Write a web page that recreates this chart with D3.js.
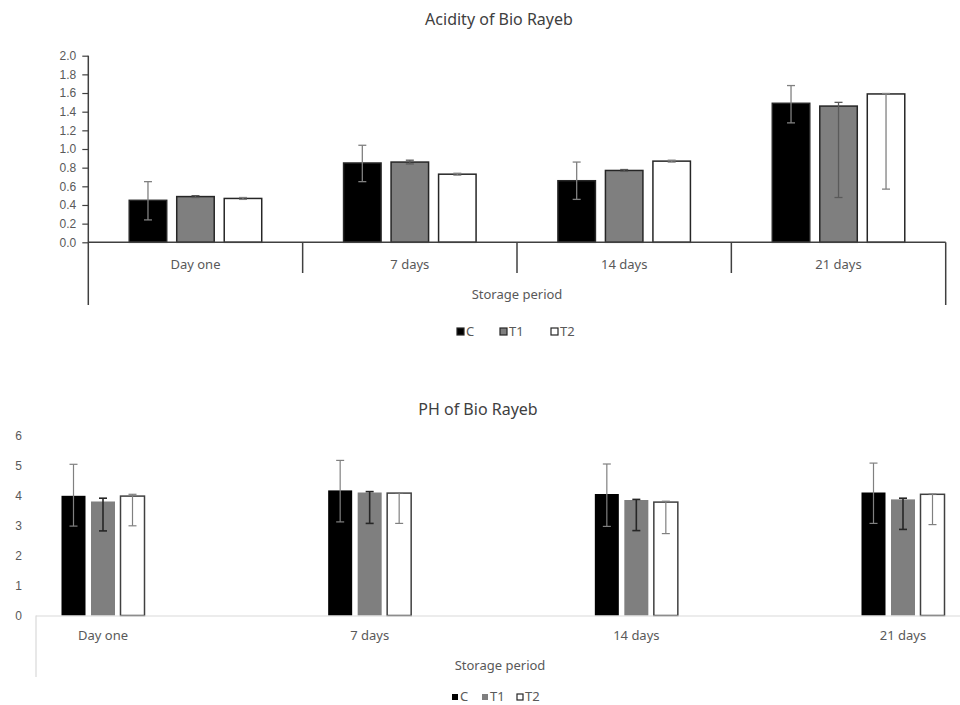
<!DOCTYPE html>
<html>
<head>
<meta charset="utf-8">
<script src="https://cdn.jsdelivr.net/npm/d3@7"></script>
<style>
  body { margin: 0; background: #fff; }
  svg { display: block; font-family: "Noto Sans", sans-serif; }
  .tick text { fill: #595959; font-size: 12px; }
</style>
</head>
<body>
<svg id="chart"></svg>
<script>
// categories and series
const categories = ['Day one', '7 days', '14 days', '21 days'];
const series = ['C', 'T1', 'T2'];

// acidity means and error bars (plus / minus)
const acidC = [0.45, 0.85, 0.66, 1.49];
const acidT1 = [0.49, 0.86, 0.77, 1.46];
const acidT2 = [0.47, 0.73, 0.87, 1.59];
const acidPlusC = [0.20, 0.19, 0.20, 0.19];
const acidPlusT1 = [0.01, 0.02, 0.01, 0.04];
const acidPlusT2 = [0.01, 0.01, 0.01, 0.005];
const acidMinusC = [0.21, 0.20, 0.20, 0.21];
const acidMinusT1 = [0.01, 0.02, 0.01, 0.98];
const acidMinusT2 = [0.01, 0.01, 0.01, 1.02];
const acidTicks = [0, 0.2, 0.4, 0.6, 0.8, 1.0, 1.2, 1.4, 1.6, 1.8, 2.0];

// pH means and error bars
const phC = [3.99, 4.17, 4.05, 4.10];
const phT1 = [3.80, 4.10, 3.85, 3.87];
const phT2 = [3.98, 4.08, 3.78, 4.04];
const phPlusC = [1.05, 1.00, 1.00, 0.98];
const phPlusT1 = [0.11, 0.03, 0.02, 0.04];
const phPlusT2 = [0.06, 0.01, 0.03, 0.01];
const phMinusC = [1.01, 1.05, 1.08, 1.03];
const phMinusT1 = [0.98, 1.03, 1.02, 1.00];
const phMinusT2 = [0.99, 1.01, 1.05, 1.01];
const phTicks = [0, 1, 2, 3, 4, 5, 6];

const width = 960;
const height = 705;

const svg = d3.select('#chart')
  .attr('width', width)
  .attr('height', height);

// flatten a set of arrays into bar records
function rows(vals, plus, minus) {
  const out = [];
  categories.forEach((cat, i) => {
    series.forEach((s, j) => {
      out.push({ cat, s, v: vals[j][i], p: plus[j][i], m: minus[j][i] });
    });
  });
  return out;
}

const fills = { C: '#000000', T1: '#7f7f7f', T2: '#ffffff' };

// ---------- Acidity chart ----------
{
  const g = svg.append('g');
  const data = rows([acidC, acidT1, acidT2], [acidPlusC, acidPlusT1, acidPlusT2], [acidMinusC, acidMinusT1, acidMinusT2]);

  const x0 = d3.scaleBand().domain(categories).range([88.3, 945.7]);
  const groupW = 132.5;
  const off = (x0.bandwidth() - groupW) / 2;
  const x1 = d3.scaleBand().domain(series).range([off, off + groupW]).paddingInner(10 / 47.5);
  const y = d3.scaleLinear().domain([0, 2]).range([242.3, 55.7]);

  g.append('text')
    .attr('x', 499).attr('y', 25)
    .attr('text-anchor', 'middle')
    .attr('font-size', 16)
    .attr('fill', '#404040')
    .text('Acidity of Bio Rayeb');

  const yAxis = g.append('g')
    .attr('transform', 'translate(88.3,0)')
    .call(d3.axisLeft(y).tickValues(acidTicks).tickFormat(d3.format('.1f')).tickSize(6).tickPadding(6));
  yAxis.select('.domain').remove();
  yAxis.selectAll('.tick line').attr('stroke', '#404040').attr('stroke-width', 1.2);

  g.selectAll('.bar')
    .data(data)
    .enter()
    .append('rect')
    .attr('x', d => x0(d.cat) + x1(d.s))
    .attr('y', d => y(d.v))
    .attr('width', x1.bandwidth())
    .attr('height', d => y(0) - y(d.v))
    .attr('fill', d => fills[d.s])
    .attr('stroke', '#262626')
    .attr('stroke-width', 1.5);

  const err = g.selectAll('.err')
    .data(data)
    .enter()
    .append('g')
    .attr('stroke', d => d.s === 'T1' ? '#5a5a5a' : '#808080')
    .attr('stroke-width', 1.3);
  const cx = d => x0(d.cat) + x1(d.s) + x1.bandwidth() / 2;
  err.append('line')
    .attr('x1', cx).attr('x2', cx)
    .attr('y1', d => y(d.v + d.p)).attr('y2', d => y(d.v - d.m));
  err.append('line')
    .attr('x1', d => cx(d) - 4).attr('x2', d => cx(d) + 4)
    .attr('y1', d => y(d.v + d.p)).attr('y2', d => y(d.v + d.p));
  err.append('line')
    .attr('x1', d => cx(d) - 4).attr('x2', d => cx(d) + 4)
    .attr('y1', d => y(d.v - d.m)).attr('y2', d => y(d.v - d.m));

  // axes lines (multi-level category axis)
  const axisColor = '#404040';
  g.append('line')
    .attr('x1', 88.3).attr('x2', 945.7)
    .attr('y1', y(0)).attr('y2', y(0))
    .attr('stroke', axisColor).attr('stroke-width', 1.5);
  g.append('line')
    .attr('x1', 88.3).attr('x2', 88.3)
    .attr('y1', y(2)).attr('y2', 305)
    .attr('stroke', axisColor).attr('stroke-width', 1.5);
  g.append('line')
    .attr('x1', 945.7).attr('x2', 945.7)
    .attr('y1', y(0)).attr('y2', 305)
    .attr('stroke', axisColor).attr('stroke-width', 1.5);
  g.selectAll('.sep')
    .data(categories.slice(1))
    .enter()
    .append('line')
    .attr('x1', d => x0(d)).attr('x2', d => x0(d))
    .attr('y1', y(0)).attr('y2', 273)
    .attr('stroke', axisColor).attr('stroke-width', 1.5);

  g.selectAll('.cat')
    .data(categories)
    .enter()
    .append('text')
    .attr('x', d => x0(d) + x0.bandwidth() / 2)
    .attr('y', 269)
    .attr('text-anchor', 'middle')
    .attr('font-size', 13)
    .attr('fill', '#595959')
    .text(d => d);

  g.append('text')
    .attr('x', 517).attr('y', 299)
    .attr('text-anchor', 'middle')
    .attr('font-size', 13)
    .attr('fill', '#595959')
    .text('Storage period');

  // legend
  const legX = [457, 500, 551];
  const leg = g.selectAll('.leg')
    .data(series)
    .enter()
    .append('g')
    .attr('transform', (d, i) => `translate(${legX[i]},328)`);
  leg.append('rect')
    .attr('width', 7).attr('height', 7)
    .attr('fill', d => fills[d])
    .attr('stroke', '#262626').attr('stroke-width', 1.2);
  leg.append('text')
    .attr('x', 9).attr('y', 8)
    .attr('font-size', 13)
    .attr('fill', '#595959')
    .text(d => d);
}

// ---------- pH chart ----------
{
  const g = svg.append('g');
  const data = rows([phC, phT1, phT2], [phPlusC, phPlusT1, phPlusT2], [phMinusC, phMinusT1, phMinusT2]);

  const x0 = d3.scalePoint().domain(categories).range([103, 903]);
  const groupW = 83;
  const x1 = d3.scaleBand().domain(series).range([-groupW / 2, groupW / 2]).paddingInner(5.5 / 29.5);
  const y = d3.scaleLinear().domain([0, 6]).range([615.5, 435.5]);

  g.append('text')
    .attr('x', 478).attr('y', 415)
    .attr('text-anchor', 'middle')
    .attr('font-size', 16)
    .attr('fill', '#404040')
    .text('PH of Bio Rayeb');

  const yAxis = g.append('g')
    .attr('transform', 'translate(22,0)')
    .call(d3.axisLeft(y).tickValues(phTicks).tickFormat(d3.format('d')).tickSize(0).tickPadding(0));
  yAxis.select('.domain').remove();

  g.selectAll('.bar')
    .data(data)
    .enter()
    .append('rect')
    .attr('x', d => x0(d.cat) + x1(d.s))
    .attr('y', d => y(d.v))
    .attr('width', x1.bandwidth())
    .attr('height', d => y(0) - y(d.v))
    .attr('fill', d => fills[d.s])
    .attr('stroke', d => d.s === 'T2' ? '#404040' : 'none')
    .attr('stroke-width', 1.5);

  const err = g.selectAll('.err')
    .data(data)
    .enter()
    .append('g')
    .attr('stroke', d => d.s === 'T1' ? '#262626' : '#808080')
    .attr('stroke-width', d => d.s === 'T1' ? 1.6 : 1.2);
  const cx = d => x0(d.cat) + x1(d.s) + x1.bandwidth() / 2;
  err.append('line')
    .attr('x1', cx).attr('x2', cx)
    .attr('y1', d => y(d.v + d.p)).attr('y2', d => y(d.v - d.m));
  err.append('line')
    .attr('x1', d => cx(d) - 4).attr('x2', d => cx(d) + 4)
    .attr('y1', d => y(d.v + d.p)).attr('y2', d => y(d.v + d.p));
  err.append('line')
    .attr('x1', d => cx(d) - 4).attr('x2', d => cx(d) + 4)
    .attr('y1', d => y(d.v - d.m)).attr('y2', d => y(d.v - d.m));

  // axis lines
  g.append('line')
    .attr('x1', 36).attr('x2', 960)
    .attr('y1', y(0) + 0.5).attr('y2', y(0) + 0.5)
    .attr('stroke', '#d9d9d9').attr('stroke-width', 1.2);
  g.append('line')
    .attr('x1', 36).attr('x2', 36)
    .attr('y1', y(0)).attr('y2', 677)
    .attr('stroke', '#d9d9d9').attr('stroke-width', 1.2);

  g.selectAll('.cat')
    .data(categories)
    .enter()
    .append('text')
    .attr('x', d => x0(d))
    .attr('y', 640)
    .attr('text-anchor', 'middle')
    .attr('font-size', 13)
    .attr('fill', '#595959')
    .text(d => d);

  g.append('text')
    .attr('x', 500).attr('y', 670)
    .attr('text-anchor', 'middle')
    .attr('font-size', 13)
    .attr('fill', '#595959')
    .text('Storage period');

  // legend
  const legX = [452, 482, 517];
  const leg = g.selectAll('.leg')
    .data(series)
    .enter()
    .append('g')
    .attr('transform', (d, i) => `translate(${legX[i]},694)`);
  leg.append('rect')
    .attr('width', 6).attr('height', 6)
    .attr('fill', d => fills[d])
    .attr('stroke', d => d === 'T2' ? '#262626' : 'none').attr('stroke-width', 1.2);
  leg.append('text')
    .attr('x', 8).attr('y', 7)
    .attr('font-size', 13)
    .attr('fill', '#595959')
    .text(d => d);
}
</script>
</body>
</html>
